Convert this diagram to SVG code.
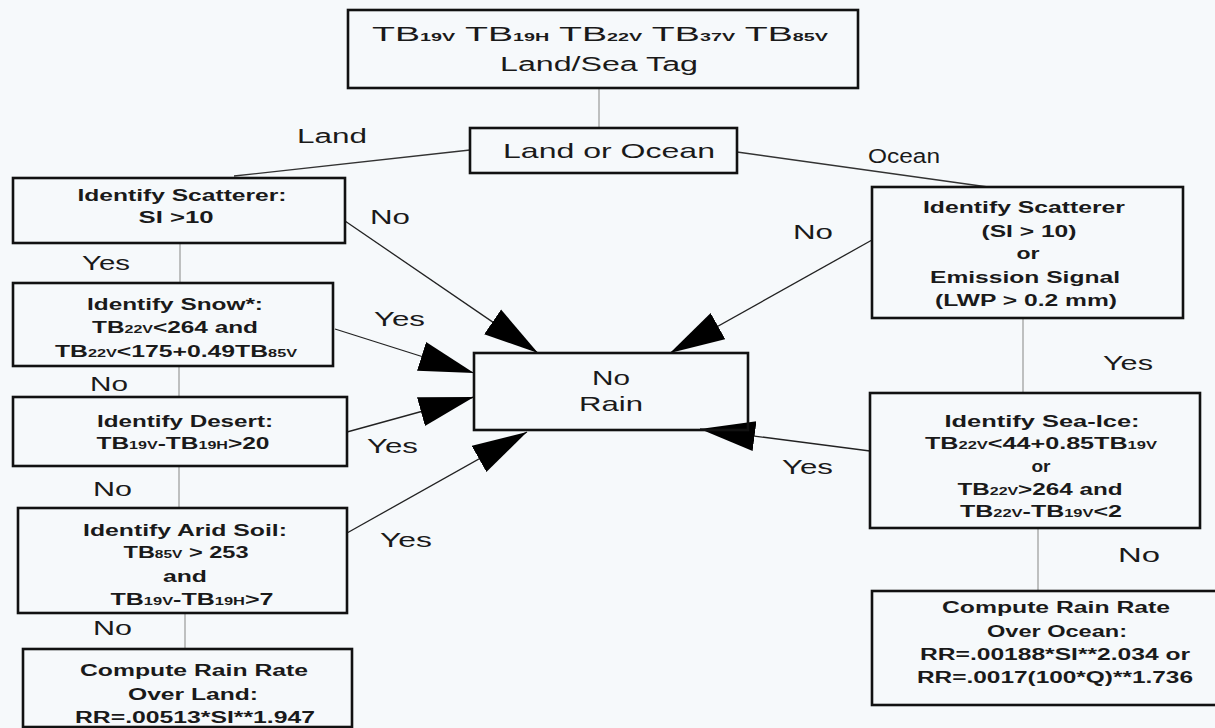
<svg xmlns="http://www.w3.org/2000/svg" width="1215" height="728" viewBox="0 0 1215 728">
<style>
.bx{fill:none;stroke:#111;stroke-width:2.6}
.t{font-family:"Liberation Sans",Arial,sans-serif;fill:#1a1a1a;text-anchor:middle}
.b{font-weight:bold;font-size:16px}
.s{font-size:10.5px;font-weight:bold}
.lb{font-family:"Liberation Sans",Arial,sans-serif;fill:#1a1a1a;font-size:20px}
.fl{stroke:#999;stroke-width:1.2;fill:none}
.ar{stroke:#222;stroke-width:1.3;fill:none;marker-end:url(#ah)}
.ln{stroke:#333;stroke-width:1.3;fill:none}
</style>
<defs>
<marker id="ah" markerUnits="userSpaceOnUse" markerWidth="56" markerHeight="32" refX="55" refY="15" orient="auto" viewBox="0 0 56 30">
<path d="M0,0 L55,15 L0,30 Z" fill="#000"/>
</marker>
</defs>
<rect width="1215" height="728" fill="#f6f9fb"/>

<g id="connectors">
<line class="fl" x1="599" y1="88" x2="599" y2="128"/>
<line class="ln" x1="470" y1="150" x2="234" y2="176"/>
<line class="ln" x1="737" y1="152" x2="988" y2="187"/>
<line class="fl" x1="180" y1="243" x2="180" y2="283"/>
<line class="fl" x1="179" y1="366" x2="179" y2="397"/>
<line class="fl" x1="179" y1="466" x2="179" y2="508"/>
<line class="fl" x1="185" y1="613" x2="185" y2="649"/>
<line class="fl" x1="1023" y1="318" x2="1023" y2="393"/>
<line class="fl" x1="1038" y1="528" x2="1038" y2="591"/>
<line class="ar" x1="345" y1="221" x2="538" y2="353"/>
<line class="ar" x1="335" y1="329" x2="474" y2="373"/>
<line class="ar" x1="347" y1="432" x2="474" y2="397"/>
<line class="ar" x1="347" y1="533" x2="527" y2="432"/>
<line class="ar" x1="872" y1="240" x2="670" y2="353"/>
<line class="ar" x1="870" y1="451" x2="700" y2="429"/>
<text class="lb" x="297" y="143" textLength="70" lengthAdjust="spacingAndGlyphs">Land</text>
<text class="lb" x="868" y="163" textLength="72" lengthAdjust="spacingAndGlyphs">Ocean</text>
<text class="lb" x="370" y="224" textLength="40" lengthAdjust="spacingAndGlyphs">No</text>
<text class="lb" x="82" y="270" textLength="48" lengthAdjust="spacingAndGlyphs">Yes</text>
<text class="lb" x="374" y="326" textLength="51" lengthAdjust="spacingAndGlyphs">Yes</text>
<text class="lb" x="90" y="391" textLength="38" lengthAdjust="spacingAndGlyphs">No</text>
<text class="lb" x="367" y="453" textLength="51" lengthAdjust="spacingAndGlyphs">Yes</text>
<text class="lb" x="93" y="496" textLength="39" lengthAdjust="spacingAndGlyphs">No</text>
<text class="lb" x="380" y="547" textLength="52" lengthAdjust="spacingAndGlyphs">Yes</text>
<text class="lb" x="93" y="635" textLength="39" lengthAdjust="spacingAndGlyphs">No</text>
<text class="lb" x="793" y="239" textLength="40" lengthAdjust="spacingAndGlyphs">No</text>
<text class="lb" x="1103" y="370" textLength="50" lengthAdjust="spacingAndGlyphs">Yes</text>
<text class="lb" x="782" y="474" textLength="51" lengthAdjust="spacingAndGlyphs">Yes</text>
<text class="lb" x="1118" y="562" textLength="42" lengthAdjust="spacingAndGlyphs">No</text>
</g>

<g id="input">
<rect class="bx" x="348" y="10" width="510" height="78"/>
<text class="t" x="600" y="41" font-size="20" textLength="456" lengthAdjust="spacingAndGlyphs">TB<tspan class="s" font-size="12">19V</tspan>  TB<tspan class="s" font-size="12">19H</tspan>  TB<tspan class="s" font-size="12">22V</tspan> TB<tspan class="s" font-size="12">37V</tspan> TB<tspan class="s" font-size="12">85V</tspan></text>
<text class="t" x="599" y="71" font-size="20" textLength="198" lengthAdjust="spacingAndGlyphs">Land/Sea Tag</text>
</g>

<g id="landocean">
<rect class="bx" x="470" y="128" width="267" height="45"/>
<text class="t" x="609" y="158" font-size="21" textLength="212" lengthAdjust="spacingAndGlyphs">Land or Ocean</text>
</g>

<g id="land-scatter">
<rect class="bx" x="13" y="178" width="332" height="65"/>
<text class="t b" x="182" y="201" textLength="209" lengthAdjust="spacingAndGlyphs">Identify Scatterer:</text>
<text class="t b" x="176" y="223" textLength="75" lengthAdjust="spacingAndGlyphs">SI &gt;10</text>
</g>

<g id="snow">
<rect class="bx" x="13" y="283" width="320" height="83"/>
<text class="t b" x="175" y="310" textLength="176" lengthAdjust="spacingAndGlyphs">Identify Snow*:</text>
<text class="t b" x="175" y="333" textLength="166" lengthAdjust="spacingAndGlyphs">TB<tspan class="s">22V</tspan>&lt;264 and</text>
<text class="t b" x="176" y="357" textLength="242" lengthAdjust="spacingAndGlyphs">TB<tspan class="s">22V</tspan>&lt;175+0.49TB<tspan class="s">85V</tspan></text>
</g>

<g id="desert">
<rect class="bx" x="13" y="397" width="334" height="69"/>
<text class="t b" x="185" y="427" textLength="176" lengthAdjust="spacingAndGlyphs">Identify Desert:</text>
<text class="t b" x="183" y="449" textLength="173" lengthAdjust="spacingAndGlyphs">TB<tspan class="s">19V</tspan>-TB<tspan class="s">19H</tspan>&gt;20</text>
</g>

<g id="arid">
<rect class="bx" x="18" y="508" width="329" height="105"/>
<text class="t b" x="185" y="536" textLength="204" lengthAdjust="spacingAndGlyphs">Identify Arid Soil:</text>
<text class="t b" x="186" y="558" textLength="125" lengthAdjust="spacingAndGlyphs">TB<tspan class="s">85V</tspan> &gt; 253</text>
<text class="t b" x="185" y="582" textLength="44" lengthAdjust="spacingAndGlyphs">and</text>
<text class="t b" x="192" y="605" textLength="163" lengthAdjust="spacingAndGlyphs">TB<tspan class="s">19V</tspan>-TB<tspan class="s">19H</tspan>&gt;7</text>
</g>

<g id="rain-land">
<rect class="bx" x="23" y="649" width="329" height="78"/>
<text class="t b" x="194" y="676" textLength="228" lengthAdjust="spacingAndGlyphs">Compute Rain Rate</text>
<text class="t b" x="193" y="700" textLength="130" lengthAdjust="spacingAndGlyphs">Over Land:</text>
<text class="t b" x="195" y="723" textLength="240" lengthAdjust="spacingAndGlyphs">RR=.00513*SI**1.947</text>
</g>

<g id="norain">
<rect class="bx" x="474" y="353" width="274" height="77"/>
<text class="t" x="611" y="385" font-size="21" textLength="38" lengthAdjust="spacingAndGlyphs">No</text>
<text class="t" x="611" y="411" font-size="21" textLength="64" lengthAdjust="spacingAndGlyphs">Rain</text>
</g>

<g id="ocean-scatter">
<rect class="bx" x="872" y="187" width="311" height="131"/>
<text class="t b" x="1024" y="213" textLength="202" lengthAdjust="spacingAndGlyphs">Identify Scatterer</text>
<text class="t b" x="1029" y="237" textLength="95" lengthAdjust="spacingAndGlyphs">(SI &gt; 10)</text>
<text class="t b" x="1028" y="259" textLength="23" lengthAdjust="spacingAndGlyphs">or</text>
<text class="t b" x="1025" y="283" textLength="190" lengthAdjust="spacingAndGlyphs">Emission Signal</text>
<text class="t b" x="1026" y="306" textLength="182" lengthAdjust="spacingAndGlyphs">(LWP &gt; 0.2 mm)</text>
</g>

<g id="seaice">
<rect class="bx" x="870" y="393" width="330" height="135"/>
<text class="t b" x="1042" y="427" textLength="195" lengthAdjust="spacingAndGlyphs">Identify Sea-Ice:</text>
<text class="t b" x="1041" y="449" textLength="232" lengthAdjust="spacingAndGlyphs">TB<tspan class="s">22V</tspan>&lt;44+0.85TB<tspan class="s">19V</tspan></text>
<text class="t b" x="1041" y="472" textLength="19" lengthAdjust="spacingAndGlyphs">or</text>
<text class="t b" x="1040" y="495" textLength="165" lengthAdjust="spacingAndGlyphs">TB<tspan class="s">22V</tspan>&gt;264 and</text>
<text class="t b" x="1041" y="517" textLength="162" lengthAdjust="spacingAndGlyphs">TB<tspan class="s">22V</tspan>-TB<tspan class="s">19V</tspan>&lt;2</text>
</g>

<g id="rain-ocean">
<rect class="bx" x="872" y="591" width="360" height="114"/>
<text class="t b" x="1056" y="613" textLength="228" lengthAdjust="spacingAndGlyphs">Compute Rain Rate</text>
<text class="t b" x="1057" y="637" textLength="140" lengthAdjust="spacingAndGlyphs">Over Ocean:</text>
<text class="t b" x="1055" y="660" textLength="270" lengthAdjust="spacingAndGlyphs">RR=.00188*SI**2.034 or</text>
<text class="t b" x="1055" y="683" textLength="276" lengthAdjust="spacingAndGlyphs">RR=.0017(100*Q)**1.736</text>
</g>
</svg>
